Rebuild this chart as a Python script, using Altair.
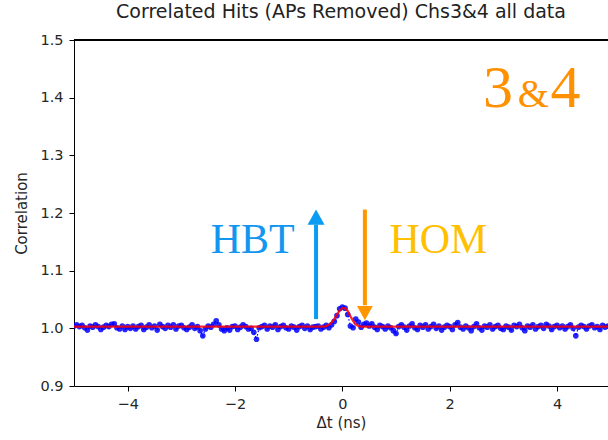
import altair as alt
import pandas as pd

# ---- measured correlation (bin centres every 0.05 ns from -5.00) ----
dt_start = -5.0
dt_step = 0.05
corr = [
    1.004, 1.006, 1.003, 1.005, 1.001, 0.997, 1.004, 1.002, 1.006, 1.003,
    0.998, 1.002, 1.005, 1.003, 1.007, 1.008, 1.001, 0.999, 1.004, 0.998,
    1.003, 1.000, 1.004, 0.999, 1.003, 1.005, 0.998, 1.002, 1.006, 1.001,
    1.004, 0.997, 1.007, 1.003, 1.000, 1.005, 1.002, 1.006, 0.999, 1.004,
    1.005, 1.001, 0.998, 1.002, 1.006, 1.000, 1.003, 0.996, 0.987, 0.999,
    1.004, 1.002, 1.007, 1.013, 1.006, 0.999, 0.996, 1.001, 0.997, 1.003,
    1.004, 0.998, 1.002, 1.006, 1.003, 0.999, 1.000, 0.993, 0.981, 1.001,
    1.003, 1.005, 0.999, 1.004, 1.002, 1.006, 0.998, 1.003, 1.005, 1.001,
    0.999, 1.004, 1.002, 0.997, 1.003, 1.005, 1.000, 1.004, 0.998, 1.002,
    1.003, 1.004, 0.999, 1.002, 1.005, 1.001, 1.006, 1.012, 1.022, 1.034,
    1.037, 1.035, 1.024, 1.004, 1.001, 1.016, 1.011, 1.002, 1.007, 1.009,
    1.004, 1.008, 1.002, 0.998, 1.005, 1.003, 0.999, 1.004, 1.001, 0.996,
    0.991, 1.003, 1.006, 1.002, 0.997, 1.004, 1.008, 1.001, 0.998, 1.005,
    1.002, 1.006, 0.999, 1.003, 1.007, 1.000, 1.004, 0.997, 1.002, 1.005,
    1.003, 0.998, 1.006, 1.010, 1.002, 0.999, 1.004, 1.001, 0.996, 1.003,
    1.008, 1.001, 0.997, 1.004, 1.002, 1.006, 0.999, 1.003, 1.005, 1.000,
    0.998, 1.004, 1.002, 0.997, 1.005, 1.003, 1.007, 1.001, 0.996, 1.004,
    1.002, 1.006, 0.999, 1.003, 1.005, 1.000, 1.007, 1.004, 0.998, 1.003,
    1.005, 1.001, 1.004, 0.999, 1.003, 1.006, 1.000, 0.987, 1.002, 1.005,
    1.003, 0.999, 1.004, 1.006, 1.001, 1.003, 0.998, 1.005, 1.002, 1.004,
]
dt = [round(dt_start + i * dt_step, 2) for i in range(len(corr))]

# ---- fitted curve ----
fit_dt = [-5.0, -0.35, -0.3, -0.25, -0.2, -0.15, -0.1, -0.05, 0.0, 0.05,
          0.1, 0.15, 0.2, 0.25, 0.3, 0.35, 4.95]
fit_corr = [1.003, 1.003, 1.004, 1.006, 1.010, 1.016, 1.024, 1.031, 1.035, 1.035,
            1.030, 1.021, 1.013, 1.007, 1.004, 1.003, 1.003]

# ---- annotations ----
arrow_dt = [-0.49, 0.42]
arrow_lo = [1.016, 1.040]
arrow_hi = [1.180, 1.206]
head_y = [1.206, 1.014]
arrow_colors = ["#0a9cf2", "#ff9600"]

labels = ["HBT", "HOM"]
label_dt = [-1.67, 1.79]
label_y = [1.131, 1.131]
label_colors = ["#1296ef", "#ffc000"]

big_parts = ["3", "&", "4"]
big_dt = [2.90, 3.56, 4.16]
big_size = [60, 40, 60]
big_y = 1.384
big_color = "#ff9100"

title = "Correlated Hits (APs Removed) Chs3&4 all data"

W, H = 534, 346
xs = alt.Scale(domain=[-5, 4.95], nice=False, zero=False)
ys = alt.Scale(domain=[0.9, 1.5], nice=False, zero=False)

df = pd.DataFrame({"dt": dt, "corr": corr})
fit = pd.DataFrame({"dt": fit_dt, "corr": fit_corr})

xenc = alt.X("dt:Q", scale=xs,
             axis=alt.Axis(values=[-4, -2, 0, 2, 4], format="d", title="Δt (ns)", grid=False,
                           labelPadding=6, titlePadding=5))
yenc = alt.Y("corr:Q", scale=ys,
             axis=alt.Axis(values=[0.9, 1.0, 1.1, 1.2, 1.3, 1.4, 1.5], format=".1f",
                           title="Correlation", grid=False, labelPadding=6, titlePadding=10))

dots_line = alt.Chart(df).mark_line(color="#0000ff", strokeDash=[1.5, 2], strokeWidth=1.2, clip=True).encode(x=xenc, y=yenc)
dots = alt.Chart(df).mark_circle(color="#0000ff", size=32, opacity=0.85, clip=True).encode(x=xenc, y=yenc)
fit_line = alt.Chart(fit).mark_line(color="#ff0000", strokeWidth=2.3, opacity=0.85, clip=True).encode(x="dt:Q", y="corr:Q")

top_spine = alt.Chart(df).mark_rule(color="#000000", strokeWidth=1).encode(
    x=alt.value(0), x2=alt.value(W), y=alt.value(0))

arr = pd.DataFrame({"dt": arrow_dt, "lo": arrow_lo, "hi": arrow_hi, "head": head_y,
                    "c": arrow_colors, "dir": ["up", "down"]})
shafts = alt.Chart(arr).mark_rule(strokeWidth=4).encode(
    x="dt:Q", y="lo:Q", y2="hi:Q", color=alt.Color("c:N", scale=None))
head_up = alt.Chart(arr[arr["dir"] == "up"]).mark_point(
    shape="M0,0 L-1,1.8 L1,1.8 Z", size=290, filled=True, opacity=1, strokeWidth=0).encode(
    x="dt:Q", y="head:Q", color=alt.Color("c:N", scale=None))
head_dn = alt.Chart(arr[arr["dir"] == "down"]).mark_point(
    shape="M0,0 L-1,-1.8 L1,-1.8 Z", size=250, filled=True, opacity=1, strokeWidth=0).encode(
    x="dt:Q", y="head:Q", color=alt.Color("c:N", scale=None))

lab = pd.DataFrame({"dt": label_dt, "y": label_y, "t": labels, "c": label_colors})
label_text = alt.Chart(lab).mark_text(font="Liberation Serif", fontSize=42, baseline="alphabetic",
                                      align="center").encode(
    x="dt:Q", y="y:Q", text="t:N", color=alt.Color("c:N", scale=None))

big = pd.DataFrame({"dt": big_dt, "y": [big_y] * 3, "t": big_parts, "s": big_size})
big_text = alt.Chart(big).mark_text(font="Liberation Serif", baseline="alphabetic", align="center",
                                    color=big_color).encode(
    x="dt:Q", y="y:Q", text="t:N", size=alt.Size("s:Q", scale=None))

chart = alt.layer(dots_line, dots, fit_line, shafts, head_up, head_dn, label_text, big_text, top_spine).properties(
    width=W, height=H,
    title=alt.TitleParams(title, fontSize=19, font="DejaVu Sans", fontWeight="normal",
                          color="#222222", anchor="middle", offset=10),
    autosize=alt.AutoSizeParams(type="none"),
    padding={"left": 74, "top": 40, "right": 0, "bottom": 54},
).configure_view(stroke=None).configure_axis(
    labelFont="DejaVu Sans", titleFont="DejaVu Sans", labelFontSize=14.5, titleFontSize=15,
    titleFontWeight="normal", labelColor="#262626", titleColor="#262626",
    domainColor="#000000", tickColor="#000000", tickSize=5, domainWidth=1,
)

chart.save("out.html", embed_options={"renderer": "svg", "actions": False})
